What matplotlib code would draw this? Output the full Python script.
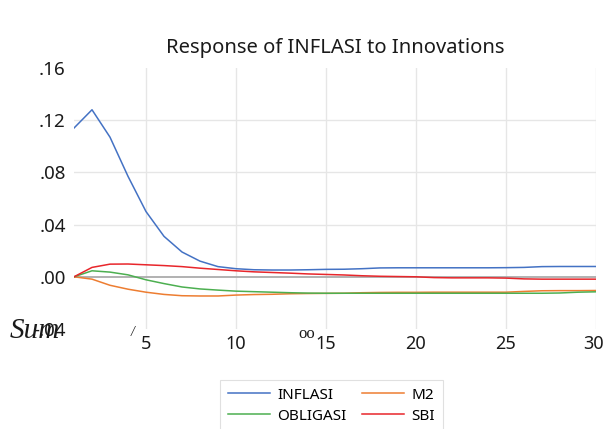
import matplotlib
matplotlib.use('Agg')
import matplotlib.pyplot as plt
import matplotlib.transforms as mtransforms

plt.rcParams['font.family'] = ['Noto Sans', 'DejaVu Sans']

periods = list(range(1, 31))

inflasi = [0.114, 0.128, 0.107, 0.077, 0.050, 0.031, 0.019, 0.012, 0.0078, 0.0062,
           0.0054, 0.0052, 0.0052, 0.0054, 0.0057, 0.0058, 0.0062, 0.0068, 0.0069, 0.0069,
           0.0069, 0.0069, 0.0069, 0.0069, 0.0070, 0.0072, 0.0078, 0.0079, 0.0079, 0.0079]
m2 = [0.0, -0.0018, -0.0065, -0.0095, -0.0118, -0.0135, -0.0145, -0.0147, -0.0147, -0.0140,
      -0.0136, -0.0134, -0.0130, -0.0128, -0.0127, -0.0126, -0.0122, -0.0120, -0.0119, -0.0119,
      -0.0118, -0.0118, -0.0118, -0.0118, -0.0118, -0.0112, -0.0107, -0.0106, -0.0106, -0.0105]
obligasi = [0.0, 0.0046, 0.0036, 0.0015, -0.0023, -0.0052, -0.0078, -0.0093, -0.0102, -0.0110,
            -0.0114, -0.0118, -0.0122, -0.0125, -0.0126, -0.0126, -0.0126, -0.0126, -0.0126, -0.0126,
            -0.0126, -0.0126, -0.0126, -0.0126, -0.0126, -0.0126, -0.0126, -0.0124, -0.0118, -0.0115]
sbi = [0.0, 0.0072, 0.0097, 0.0098, 0.0092, 0.0086, 0.0078, 0.0066, 0.0056, 0.0046,
       0.0038, 0.0033, 0.0028, 0.0022, 0.0018, 0.0014, 0.0008, 0.0004, 0.0002, 0.0,
       -0.0006, -0.0008, -0.0008, -0.0008, -0.0010, -0.0016, -0.0018, -0.0018, -0.0018, -0.0018]

x_ticks = [5, 10, 15, 20, 25, 30]
y_ticks = [-0.04, 0.0, 0.04, 0.08, 0.12, 0.16]
y_labels = ['-.04', '.00', '.04', '.08', '.12', '.16']

fig = plt.figure(figsize=(6.05, 4.29), dpi=100)
ax = fig.add_axes([74 / 605, 100 / 429, 522 / 605, 261 / 429])

# zero line + gridlines (Excel-like)
ax.axhline(0, color='#ABABAB', linewidth=1.3, zorder=1)
for v in y_ticks[2:-1]:
    ax.axhline(v, color='#E6E6E6', linewidth=1, zorder=0)
for v in x_ticks:
    ax.axvline(v, color='#E6E6E6', linewidth=1, zorder=0)

ax.plot(periods, inflasi, color='#4472C4', linewidth=1.1, label='INFLASI')
ax.plot(periods, m2, color='#ED7D31', linewidth=1.1, label='M2')
ax.plot(periods, obligasi, color='#4CAF50', linewidth=1.1, label='OBLIGASI')
ax.plot(periods, sbi, color='#E8262B', linewidth=1.1, label='SBI')

ax.set_xlim(1, 30)
ax.set_ylim(-0.04, 0.16)
ax.set_xticks(x_ticks)
ax.set_yticks(y_ticks)
ax.set_yticklabels(y_labels)
ax.tick_params(length=0, labelsize=13.5, colors='#1A1A1A')
ax.tick_params(axis='y', pad=6)
ax.tick_params(axis='x', pad=4, labelsize=13)
for s in ax.spines.values():
    s.set_visible(False)

# keep the last x label inside the canvas, as in the original
last = ax.get_xticklabels()[-1]
last.set_transform(last.get_transform() +
                   mtransforms.ScaledTranslation(-3 / 100, 0, fig.dpi_scale_trans))

fig.text(335 / 605, 1 - 48 / 429, 'Response of INFLASI to Innovations',
         ha='center', va='center', fontsize=14.5, color='#1A1A1A')

# stray glyphs present in the original render
fig.text(10 / 605, 1 - 331 / 429, 'Sum', family='Liberation Serif', style='italic',
         fontsize=21, va='center', ha='left', color='#1A1A1A')
fig.text(133 / 605, 1 - 333 / 429, '/', family='Liberation Serif', style='italic',
         fontsize=10, va='center', ha='center', color='#1A1A1A')
fig.text(307 / 605, 1 - 334 / 429, 'oo', family='Liberation Serif',
         fontsize=12, va='center', ha='center', color='#1A1A1A')

# legend rows: INFLASI, M2 / OBLIGASI, SBI
handles, labels = ax.get_legend_handles_labels()
order = [0, 2, 1, 3]
leg = fig.legend([handles[i] for i in order], [labels[i] for i in order],
                 loc='upper left', bbox_to_anchor=(220 / 605, 1 - 380 / 429), ncol=2,
                 fontsize=11, frameon=True, fancybox=False, handlelength=2.75,
                 handletextpad=0.5, columnspacing=1.0, borderpad=0.5, labelspacing=0.4,
                 borderaxespad=0)
leg.get_frame().set_edgecolor('#D9D9D9')
leg.get_frame().set_linewidth(0.8)

plt.savefig('out.png', dpi=100, facecolor='white')
plt.close(fig)
